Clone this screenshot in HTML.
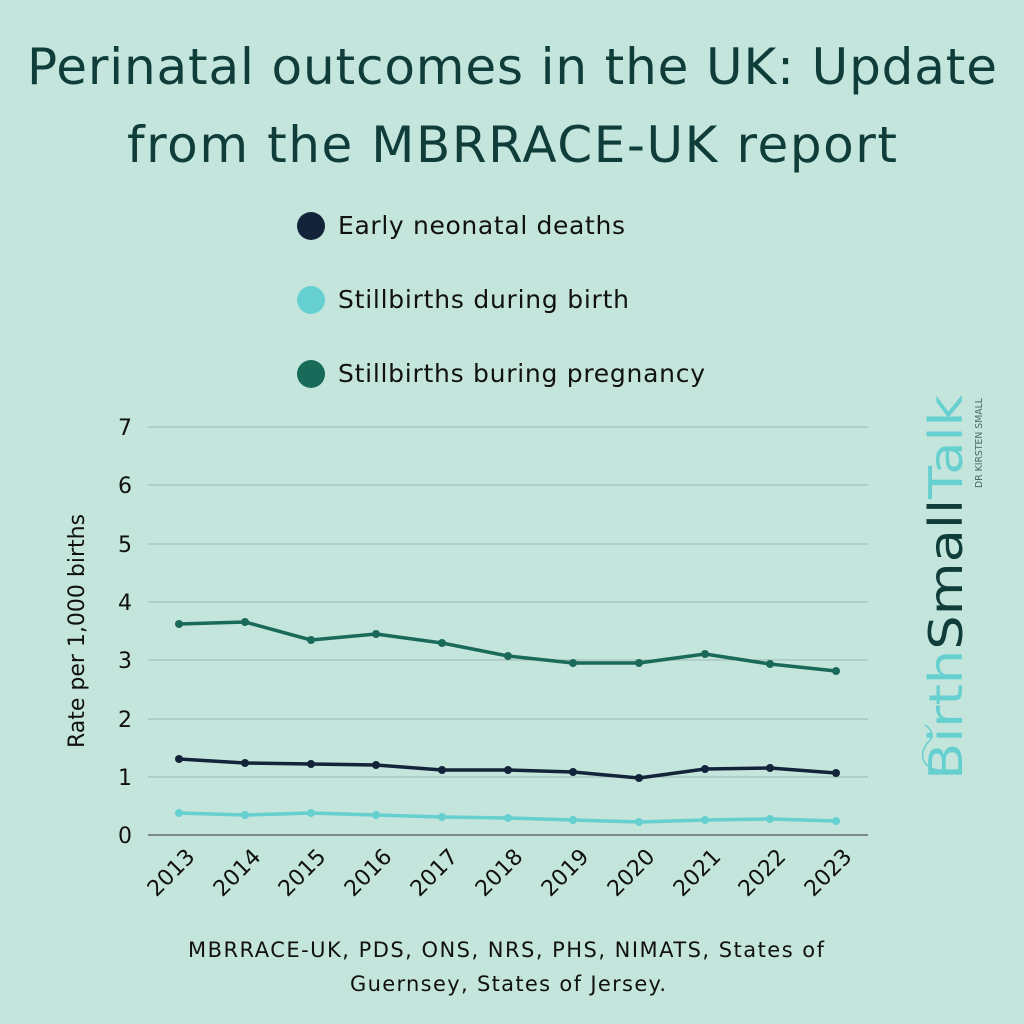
<!DOCTYPE html>
<html><head><meta charset="utf-8"><style>
html,body{margin:0;padding:0;background:#c4e5dc;}
svg{display:block}
text{font-family:"DejaVu Sans","Liberation Sans",sans-serif;}
</style></head><body>
<svg width="1024" height="1024" viewBox="0 0 1024 1024" xmlns="http://www.w3.org/2000/svg">
<rect width="1024" height="1024" fill="#c4e5dc"/>
<text x="512" y="84" text-anchor="middle" font-size="50" fill="#0f3d3a" textLength="970">Perinatal outcomes in the UK: Update</text>
<text x="512" y="162" text-anchor="middle" font-size="50" fill="#0f3d3a" textLength="770">from the MBRRACE-UK report</text>
<circle cx="311" cy="226" r="14" fill="#13233a"/>
<text x="338" y="234" font-size="25" fill="#111" textLength="287">Early neonatal deaths</text>
<circle cx="311" cy="300" r="14" fill="#66cfcf"/>
<text x="338" y="308" font-size="25" fill="#111" textLength="291">Stillbirths during birth</text>
<circle cx="311" cy="374" r="14" fill="#1a6a5a"/>
<text x="338" y="382" font-size="25" fill="#111" textLength="367">Stillbirths buring pregnancy</text>
<g stroke="#9bb8b0" stroke-width="1">
<line x1="148" x2="868" y1="427" y2="427"/><line x1="148" x2="868" y1="485" y2="485"/>
<line x1="148" x2="868" y1="544" y2="544"/><line x1="148" x2="868" y1="602" y2="602"/>
<line x1="148" x2="868" y1="660" y2="660"/><line x1="148" x2="868" y1="719" y2="719"/>
<line x1="148" x2="868" y1="777" y2="777"/>
</g>
<line x1="148" x2="868" y1="835" y2="835" stroke="#555" stroke-width="1.2"/>
<g font-size="22" fill="#111" text-anchor="end">
<text x="132" y="435">7</text><text x="132" y="493">6</text><text x="132" y="552">5</text>
<text x="132" y="610">4</text><text x="132" y="668">3</text><text x="132" y="727">2</text>
<text x="132" y="785">1</text><text x="132" y="843">0</text>
</g>
<text transform="translate(84,631) rotate(-90)" text-anchor="middle" font-size="22" fill="#111">Rate per 1,000 births</text>
<g font-size="22" fill="#111" text-anchor="end">
<text transform="translate(196,858) rotate(-45)">2013</text>
<text transform="translate(262,858) rotate(-45)">2014</text>
<text transform="translate(327,858) rotate(-45)">2015</text>
<text transform="translate(393,858) rotate(-45)">2016</text>
<text transform="translate(459,858) rotate(-45)">2017</text>
<text transform="translate(524,858) rotate(-45)">2018</text>
<text transform="translate(590,858) rotate(-45)">2019</text>
<text transform="translate(656,858) rotate(-45)">2020</text>
<text transform="translate(722,858) rotate(-45)">2021</text>
<text transform="translate(787,858) rotate(-45)">2022</text>
<text transform="translate(853,858) rotate(-45)">2023</text>
</g>
<g fill="none" stroke-width="3.5" stroke-linejoin="round">
<polyline stroke="#1a6a5a" points="179,624 245,622 311,640 376,634 442,643 508,656 573,663 639,663 705,654 770,664 836,671"/>
<polyline stroke="#13233a" points="179,759 245,763 311,764 376,765 442,770 508,770 573,772 639,778 705,769 770,768 836,773"/>
<polyline stroke="#66cfcf" points="179,813 245,815 311,813 376,815 442,817 508,818 573,820 639,822 705,820 770,819 836,821"/>
</g>
<g fill="#1a6a5a"><circle cx="179" cy="624" r="4"/><circle cx="245" cy="622" r="4"/><circle cx="311" cy="640" r="4"/><circle cx="376" cy="634" r="4"/><circle cx="442" cy="643" r="4"/><circle cx="508" cy="656" r="4"/><circle cx="573" cy="663" r="4"/><circle cx="639" cy="663" r="4"/><circle cx="705" cy="654" r="4"/><circle cx="770" cy="664" r="4"/><circle cx="836" cy="671" r="4"/></g>
<g fill="#13233a"><circle cx="179" cy="759" r="4"/><circle cx="245" cy="763" r="4"/><circle cx="311" cy="764" r="4"/><circle cx="376" cy="765" r="4"/><circle cx="442" cy="770" r="4"/><circle cx="508" cy="770" r="4"/><circle cx="573" cy="772" r="4"/><circle cx="639" cy="778" r="4"/><circle cx="705" cy="769" r="4"/><circle cx="770" cy="768" r="4"/><circle cx="836" cy="773" r="4"/></g>
<g fill="#66cfcf"><circle cx="179" cy="813" r="4"/><circle cx="245" cy="815" r="4"/><circle cx="311" cy="813" r="4"/><circle cx="376" cy="815" r="4"/><circle cx="442" cy="817" r="4"/><circle cx="508" cy="818" r="4"/><circle cx="573" cy="820" r="4"/><circle cx="639" cy="822" r="4"/><circle cx="705" cy="820" r="4"/><circle cx="770" cy="819" r="4"/><circle cx="836" cy="821" r="4"/></g>
<text x="506" y="957" text-anchor="middle" font-size="21" fill="#111" textLength="636">MBRRACE-UK, PDS, ONS, NRS, PHS, NIMATS, States of</text>
<text x="508" y="991" text-anchor="middle" font-size="21" fill="#111" textLength="316">Guernsey, States of Jersey.</text>
<g transform="translate(962,780) rotate(-90)">
<text x="0" y="0" font-size="46" fill="#66cfcf" textLength="385" lengthAdjust="spacingAndGlyphs">Birth<tspan fill="#0f3d3a">Small</tspan>Talk</text>
</g>
<text transform="translate(982,488) rotate(-90)" font-size="10" fill="#4a6a66" textLength="90" lengthAdjust="spacingAndGlyphs">DR KIRSTEN SMALL</text>
<path d="M940,770 C925,770 915,755 930,740 C935,735 930,728 925,725" fill="none" stroke="#66cfcf" stroke-width="1.5"/>
</svg>
</body></html>
